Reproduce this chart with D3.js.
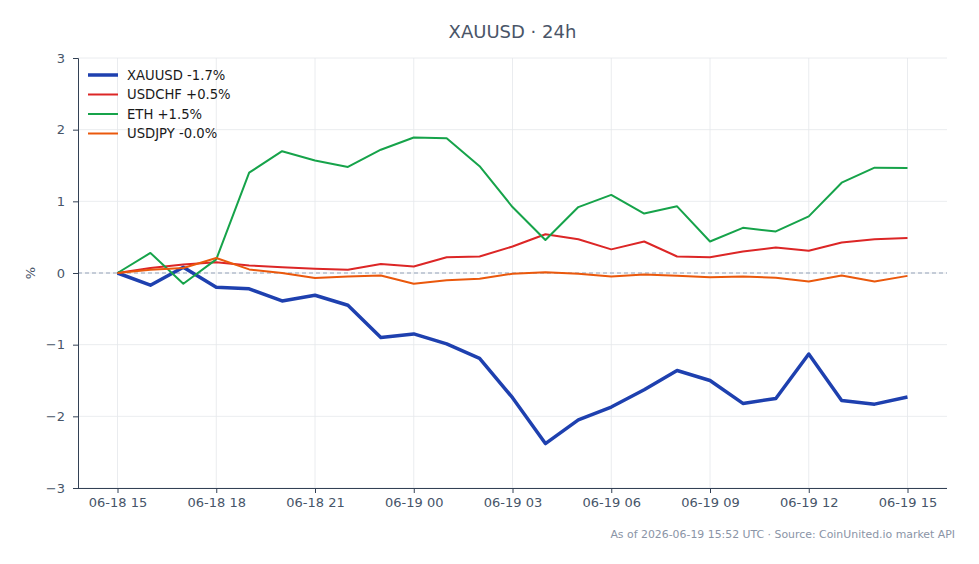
<!DOCTYPE html>
<html><head><meta charset="utf-8">
<script src="https://cdn.jsdelivr.net/npm/d3@7"></script>
<style>body{margin:0;background:#fff;}svg{display:block;font-family:"DejaVu Sans",sans-serif;}</style>
</head><body>
<svg id="chart" width="979" height="564"></svg>
<script>
const hours = ["06-18 15","06-18 16","06-18 17","06-18 18","06-18 19","06-18 20","06-18 21","06-18 22","06-18 23",
  "06-19 00","06-19 01","06-19 02","06-19 03","06-19 04","06-19 05","06-19 06","06-19 07","06-19 08",
  "06-19 09","06-19 10","06-19 11","06-19 12","06-19 13","06-19 14","06-19 15"];
const xauusd = [0,-0.17,0.08,-0.2,-0.22,-0.39,-0.31,-0.45,-0.9,-0.85,-0.99,-1.19,-1.74,-2.38,-2.05,-1.87,-1.63,-1.36,-1.5,-1.82,-1.75,-1.13,-1.78,-1.83,-1.73];
const usdchf = [0,0.07,0.12,0.15,0.105,0.08,0.06,0.045,0.125,0.09,0.22,0.23,0.37,0.54,0.47,0.33,0.44,0.23,0.22,0.3,0.355,0.31,0.425,0.47,0.49];
const eth = [0,0.28,-0.15,0.19,1.4,1.7,1.57,1.48,1.72,1.89,1.88,1.49,0.92,0.46,0.92,1.09,0.83,0.93,0.44,0.63,0.58,0.79,1.26,1.47,1.465];
const usdjpy = [0,0.045,0.07,0.21,0.05,0.0,-0.07,-0.05,-0.035,-0.15,-0.1,-0.08,-0.01,0.01,-0.01,-0.05,-0.02,-0.04,-0.06,-0.05,-0.065,-0.12,-0.035,-0.12,-0.04];
const seriesNames = ["XAUUSD -1.7%","USDCHF +0.5%","ETH +1.5%","USDJPY -0.0%"];
const yTicks = [-3,-2,-1,0,1,2,3];
const xTickIdx = [0,3,6,9,12,15,18,21,24];

const series = [
  {name: seriesNames[0], values: xauusd, color: "#1e40af", width: 3.5},
  {name: seriesNames[1], values: usdchf, color: "#dc2626", width: 2},
  {name: seriesNames[2], values: eth, color: "#16a34a", width: 2},
  {name: seriesNames[3], values: usdjpy, color: "#ea580c", width: 2}
];

const svg = d3.select("#chart");
const L = 78, R = 947, T = 58, B = 488;
const x = d3.scaleLinear().domain([-1.2, 25.2]).range([L, R]);
const y = d3.scaleLinear().domain([-3, 3]).range([B, T]);
const axisColor = "#334155", textColor = "#475569";

// grid
const g = svg.append("g");
g.selectAll(".vg").data(xTickIdx).join("line")
  .attr("x1", d => x(d)).attr("x2", d => x(d)).attr("y1", T).attr("y2", B)
  .attr("stroke", "#e5e7eb").attr("stroke-width", 0.8);
g.selectAll(".hg").data(yTicks).join("line")
  .attr("x1", L).attr("x2", R).attr("y1", d => y(d)).attr("y2", d => y(d))
  .attr("stroke", "#e5e7eb").attr("stroke-width", 0.8);

// zero line
svg.append("line").attr("x1", L).attr("x2", R).attr("y1", y(0)).attr("y2", y(0))
  .attr("stroke", "#94a3b8").attr("stroke-width", 1).attr("stroke-dasharray", "4,3");

// lines
const line = d3.line().x((d, i) => x(i)).y(d => y(d));
series.forEach(s => {
  svg.append("path").datum(s.values).attr("d", line)
    .attr("fill", "none").attr("stroke", s.color).attr("stroke-width", s.width)
    .attr("stroke-linejoin", "round").attr("stroke-linecap", "butt");
});

// axes
const xAxis = d3.axisBottom(x).tickValues(xTickIdx).tickFormat(d => hours[d]).tickSizeOuter(0).tickSize(5).tickPadding(5);
const yAxis = d3.axisLeft(y).tickValues(yTicks).tickFormat(d => d < 0 ? "\u2212" + Math.abs(d) : String(d)).tickSizeOuter(0).tickSize(5).tickPadding(8);
const gx = svg.append("g").attr("transform", `translate(0,${B})`).call(xAxis);
const gy = svg.append("g").attr("transform", `translate(${L},0)`).call(yAxis);
[gx, gy].forEach(a => {
  a.select(".domain").attr("stroke", axisColor).attr("stroke-width", 1);
  a.selectAll(".tick line").attr("stroke", axisColor).attr("stroke-width", 1);
  a.selectAll(".tick text").attr("fill", textColor).attr("font-size", 13).attr("font-family", "DejaVu Sans");
});
gx.select(".domain").attr("d", `M${L},0.5H${R}`);

// y label
svg.append("text").attr("transform", `translate(35,${y(0)}) rotate(-90)`)
  .attr("text-anchor", "middle").attr("fill", textColor).attr("font-size", 13).text("%");

// title
svg.append("text").attr("x", (L + R) / 2).attr("y", 38).attr("text-anchor", "middle")
  .attr("fill", "#4a5568").attr("font-size", 18).text("XAUUSD \u00b7 24h");

// legend
const lg = svg.append("g");
series.forEach((s, i) => {
  const yy = 75 + i * 19.5;
  lg.append("line").attr("x1", 88).attr("x2", 118).attr("y1", yy).attr("y2", yy)
    .attr("stroke", s.color).attr("stroke-width", s.width);
  lg.append("text").attr("x", 127).attr("y", yy + 4.5).attr("fill", "#1a1a1a")
    .attr("font-size", 13.2).text(s.name);
});

// footer
svg.append("text").attr("x", 955).attr("y", 538).attr("text-anchor", "end")
  .attr("fill", "#8a94a6").attr("font-size", 10.9)
  .text("As of 2026-06-19 15:52 UTC \u00b7 Source: CoinUnited.io market API");
</script>
</body></html>
